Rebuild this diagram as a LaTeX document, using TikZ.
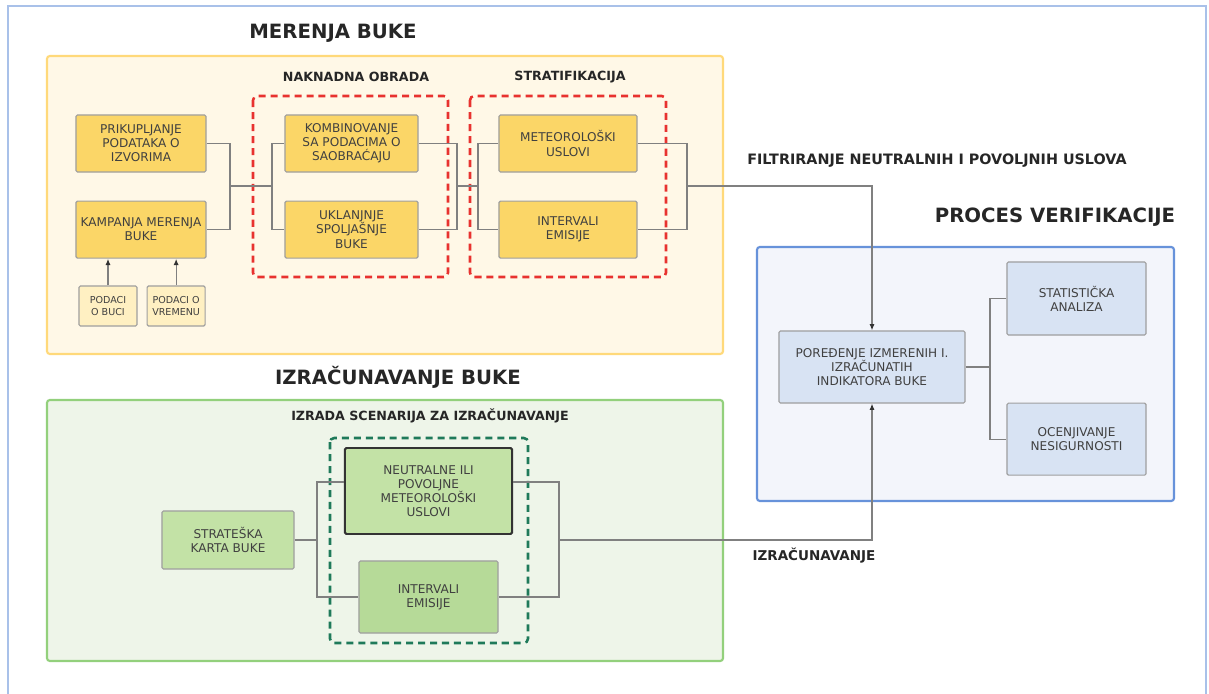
\documentclass[tikz,border=0pt]{standalone}
\usepackage{fontspec}
\setmainfont{DejaVu Sans}
\definecolor{okvir}{HTML}{A9C1E9}
\definecolor{zutapoz}{HTML}{FFF8E7}
\definecolor{zutarub}{HTML}{FFD97A}
\definecolor{zuta}{HTML}{FBD667}
\definecolor{svzuta}{HTML}{FFF0C2}
\definecolor{crvena}{HTML}{E8322F}
\definecolor{zelpoz}{HTML}{EEF5E9}
\definecolor{zelrub}{HTML}{93D07C}
\definecolor{zelena}{HTML}{C3E2A6}
\definecolor{zelena2}{HTML}{B6DA98}
\definecolor{tamnozel}{HTML}{1F7A5A}
\definecolor{plavpoz}{HTML}{F3F5FB}
\definecolor{plavrub}{HTML}{6792DA}
\definecolor{plava}{HTML}{D8E3F3}
\definecolor{linija}{HTML}{808080}
\usepackage{tikz}
\usetikzlibrary{arrows.meta, positioning}

\begin{document}
\begin{tikzpicture}[
    x=0.025cm, y=-0.025cm,
    box/.style={rectangle, rounded corners=1pt, draw=gray!75, fill=zuta,
                line width=0.8pt, minimum width=3.25cm, minimum height=1.425cm,
                inner sep=1pt, align=center, text=black!75,
                font=\fontsize{8.6}{10}\selectfont},
    malibox/.style={box, fill=svzuta, minimum width=1.45cm, minimum height=1cm,
                    font=\fontsize{6.8}{8.5}\selectfont},
    zbox/.style={box, fill=zelena},
    pbox/.style={box, fill=plava},
    panel/.style={rounded corners=2pt, line width=1.5pt},
    grupa/.style={rounded corners=3pt, line width=1.8pt,
                  dash pattern=on 5pt off 3.5pt},
    naslov/.style={font=\fontsize{14}{16}\selectfont\bfseries, text=black!85},
    podnaslov/.style={font=\fontsize{9}{11}\selectfont\bfseries, text=black!85},
    veza/.style={linija, line width=0.9pt},
    arr/.style={veza, -{Latex[length=1.6mm, width=1.3mm, black!80]}}
  ]
  \useasboundingbox (0,0) rectangle (1209,694);
  \draw[okvir, line width=1.5pt] (8,694) |- (1206,6) -- (1206,694);

  % panels
  \draw[panel, draw=zutarub, fill=zutapoz] (47,56) rectangle (723,354);
  \draw[panel, draw=zelrub, fill=zelpoz] (47,400) rectangle (723,661);
  \draw[panel, draw=plavrub, fill=plavpoz] (757,247) rectangle (1174,501);
  \draw[grupa, crvena] (253,96) rectangle (448,277);
  \draw[grupa, crvena] (470,96) rectangle (666,277);
  \draw[grupa, tamnozel] (330,438) rectangle (528,643);

  \node[naslov] (mer) at (333,33) {MERENJA BUKE};
  \node[naslov] (izr) at (398,377) {IZRAČUNAVANJE BUKE};
  \node[naslov] (ver) at (1055,217) {PROCES VERIFIKACIJE};
  \node[podnaslov] (nak) at (356,77) {NAKNADNA OBRADA};
  \node[podnaslov] (str) at (570,77) {STRATIFIKACIJA};
  \node[podnaslov] (scen) at (430,416) {IZRADA SCENARIJA ZA IZRAČUNAVANJE};
  \node[podnaslov, font=\fontsize{10.2}{12}\selectfont\bfseries] (filt) at (937,161)
    {FILTRIRANJE NEUTRALNIH I POVOLJNIH USLOVA};
  \node[podnaslov, font=\fontsize{9.6}{11}\selectfont\bfseries] (racun) at (814,556)
    {IZRAČUNAVANJE};

  % merenje
  \node[box] (prik) at (141,143.5) {PRIKUPLJANJE\\PODATAKA O\\IZVORIMA};
  \node[box, below=0.7cm of prik] (kamp) {KAMPANJA MERENJA\\BUKE};
  \node[malibox] (buci) at (108,306) {PODACI\\O BUCI};
  \node[malibox, right=0.225cm of buci] (vrem) {PODACI O\\VREMENU};
  \node[box, minimum width=3.325cm] (komb) at (351.5,143.5)
    {KOMBINOVANJE\\SA PODACIMA O\\SAOBRAĆAJU};
  \node[box, minimum width=3.325cm, below=0.7cm of komb] (ukl)
    {UKLANJNJE\\SPOLJAŠNJE\\BUKE};
  \node[box, minimum width=3.45cm] (met) at (568,143.5) {METEOROLOŠKI\\USLOVI};
  \node[box, minimum width=3.45cm, below=0.7cm of met] (int) {INTERVALI\\EMISIJE};

  % izracunavanje
  \node[zbox, minimum width=3.3cm, minimum height=1.45cm] (strat) at (228,540)
    {STRATEŠKA\\KARTA BUKE};
  \node[zbox, draw=black!80, line width=1.4pt, minimum width=4.175cm,
        minimum height=2.15cm] (neut) at (428.5,491)
    {NEUTRALNE ILI\\POVOLJNE\\METEOROLOŠKI\\USLOVI};
  \node[zbox, fill=zelena2, minimum width=3.475cm,
        minimum height=1.8cm] (int2) at (428.5,597) {INTERVALI\\EMISIJE};

  % verifikacija
  \node[pbox, minimum width=4.65cm, minimum height=1.8cm] (por) at (872,367)
    {POREĐENJE IZMERENIH I.\\IZRAČUNATIH\\INDIKATORA BUKE};
  \node[pbox, minimum width=3.475cm, minimum height=1.825cm] (stat) at (1076.5,298.5)
    {STATISTIČKA\\ANALIZA};
  \node[pbox, minimum width=3.475cm, minimum height=1.8cm, below=1.675cm of stat] (ocen)
    {OCENJIVANJE\\NESIGURNOSTI};

  \coordinate (j1) at (230,186);
  \coordinate (j2) at (272,186);
  \coordinate (j3) at (457,186);
  \coordinate (j4) at (478,186);
  \coordinate (j5) at (687,186);
  \coordinate (j6) at (317,540);
  \coordinate (j7) at (559,540);
  \coordinate (j8) at (990,367);

  \draw[veza] (prik.east) -| (j1) |- (kamp.east);
  \draw[veza] (j1) -- (j2);
  \draw[veza] (komb.west) -| (j2) |- (ukl.west);
  \draw[veza] (komb.east) -| (j3) |- (ukl.east);
  \draw[veza] (j3) -- (j4);
  \draw[veza] (met.west) -| (j4) |- (int.west);
  \draw[veza] (met.east) -| (j5) |- (int.east);
  \draw[arr] (j5) -| (por.north);
  \draw[arr] (buci) -- (buci |- kamp.south);
  \draw[arr] (vrem) -- (vrem |- kamp.south);

  \draw[veza] (strat.east) -- (j6);
  \draw[veza] ([yshift=0.225cm]neut.west) -| (j6) |- (int2.west);
  \draw[veza] ([yshift=0.225cm]neut.east) -| (j7) |- (int2.east);
  \draw[arr] (j7) -| (por.south);

  \draw[veza] (por.east) -- (j8);
  \draw[veza] (stat.west) -| (j8) |- (ocen.west);
\end{tikzpicture}
\end{document}
